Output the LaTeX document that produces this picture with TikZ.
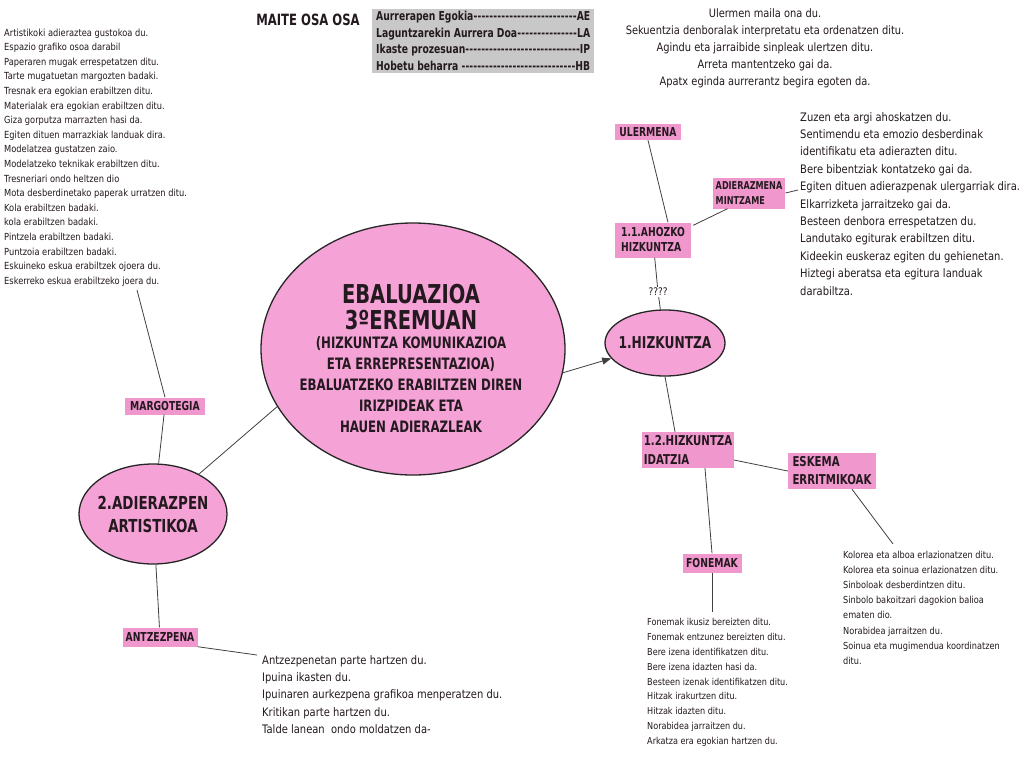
\documentclass[tikz,border=0pt]{standalone}
\usepackage{fontspec}
\newfontfamily\cf{DejaVu Sans}[FakeStretch=0.85]
\newfontfamily\cfb{DejaVu Sans Bold}[FakeStretch=0.75]
\usetikzlibrary{shapes.geometric,calc,arrows.meta}
\definecolor{ellpink}{RGB}{245,162,215}
\definecolor{boxpink}{RGB}{240,152,206}
\definecolor{leggray}{RGB}{200,200,200}
\definecolor{txt}{RGB}{35,25,30}
\begin{document}
\begin{tikzpicture}[x=1pt,y=-1pt,
  every node/.style={font=\cf, text=txt},
  ell/.style={ellipse, draw=black!85, line width=1.3pt, fill=ellpink, inner sep=0pt},
  lbl/.style={fill=boxpink, inner xsep=3pt, inner ysep=1pt, align=left,
    font=\cfb\fontsize{12.3}{15}\selectfont},
  conn/.style={draw=black!75, line width=0.8pt},
  blk/.style={inner sep=0pt, align=left, anchor=north west}]

\useasboundingbox[fill=white] (0,0) rectangle (1024,768);

% ---------- header ----------
\node[font=\cfb\fontsize{15.5}{18}\selectfont] (maite) at (308,20) {MAITE OSA OSA};
\node[fill=leggray, inner xsep=4pt, inner ysep=2pt, anchor=north west, align=left,
  font=\cfb\fontsize{12.3}{16.6}\selectfont] (leg) at (372,9)
 {\makebox[214pt][l]{Aurrerapen Egokia\xleaders\hbox{-}\hfill AE}\\
  \makebox[214pt][l]{Laguntzarekin Aurrera Doa\xleaders\hbox{-}\hfill LA}\\
  \makebox[214pt][l]{Ikaste prozesuan\xleaders\hbox{-}\hfill IP}\\
  \makebox[214pt][l]{Hobetu beharra \xleaders\hbox{-}\hfill HB}};

% ---------- main ellipses ----------
\node[ell, minimum width=304, minimum height=252] (main) at (413,349) {};
\node[inner sep=0pt, anchor=base] (maintxt) at (411,432)
 {\vbox{\hsize=300pt\parindent=0pt\centering\cfb
  \fontsize{26}{26}\selectfont EBALUAZIOA\par
  3ºEREMUAN\par
  \fontsize{15.7}{21}\selectfont\vskip-2.5pt
  (HIZKUNTZA KOMUNIKAZIOA\par
  ETA ERREPRESENTAZIOA)\par
  EBALUATZEKO ERABILTZEN DIREN\par
  IRIZPIDEAK ETA\par
  HAUEN ADIERAZLEAK\par}};

\node[ell, minimum width=120, minimum height=66, inner xsep=-14pt,
  font=\cfb\fontsize{16.3}{18}\selectfont] (hiz) at (665,343) {1.HIZKUNTZA};
\node[ell, minimum width=148, minimum height=100, inner xsep=-16pt, align=center,
  font=\cfb\fontsize{17.9}{23}\selectfont] (adi) at (153,514) {2.ADIERAZPEN\\ARTISTIKOA};

% ---------- labels ----------
\node[lbl, minimum width=80, minimum height=17] (marg) at (165,406) {MARGOTEGIA};
\node[lbl, minimum width=75, minimum height=19] (antz) at (160,637) {ANTZEZPENA};
\node[lbl, minimum width=66, minimum height=16] (uler) at (648,132) {ULERMENA};
\node[lbl, minimum width=72, minimum height=31,
  font=\cfb\fontsize{10.8}{14.5}\selectfont] (adz) at (749,193) {ADIERAZMENA\\MINTZAME};
\node[lbl, minimum width=76, minimum height=35] (ahoz) at (653,240) {1.1.AHOZKO\\HIZKUNTZA};
\node[inner sep=1pt, font=\cf\fontsize{10.5}{12}\selectfont] (q) at (658,292) {????};
\node[lbl, minimum width=90, minimum height=36, inner xsep=1.5pt,
  font=\cfb\fontsize{13.6}{19}\selectfont] (idat) at (688,450) {1.2.HIZKUNTZA\\IDATZIA};
\node[lbl, minimum width=88, minimum height=36,
  font=\cfb\fontsize{13.6}{18}\selectfont] (esk) at (832,471) {ESKEMA\\ERRITMIKOAK};
\node[lbl, minimum width=59, minimum height=19] (fon) at (712,563) {FONEMAK};

% ---------- text blocks ----------
\node[blk, font=\cf\fontsize{9.75}{14.6}\selectfont] (tl) at (4,28.5)
 {Artistikoki adieraztea gustokoa du.\\
  Espazio grafiko osoa darabil\\
  Paperaren mugak errespetatzen ditu.\\
  Tarte mugatuetan margozten badaki.\\
  Tresnak era egokian erabiltzen ditu.\\
  Materialak era egokian erabiltzen ditu.\\
  Giza gorputza marrazten hasi da.\\
  Egiten dituen marrazkiak landuak dira.\\
  Modelatzea gustatzen zaio.\\
  Modelatzeko teknikak erabiltzen ditu.\\
  Tresneriari ondo heltzen dio\\
  Mota desberdinetako paperak urratzen ditu.\\
  Kola erabiltzen badaki.\\
  kola erabiltzen badaki.\\
  Pintzela erabiltzen badaki.\\
  Puntzoia erabiltzen badaki.\\
  Eskuineko eskua erabiltzek ojoera du.\\
  Eskerreko eskua erabiltzeko joera du.};

\node[inner sep=0pt, align=center, anchor=north, font=\cf\fontsize{11.6}{17}\selectfont] (tc) at (765,8)
 {Ulermen maila ona du.\\
  Sekuentzia denboralak interpretatu eta ordenatzen ditu.\\
  Agindu eta jarraibide sinpleak ulertzen ditu.\\
  Arreta mantentzeko gai da.\\
  Apatx eginda aurrerantz begira egoten da.};

\node[blk, font=\cf\fontsize{11.7}{17.4}\selectfont] (rt) at (800,112)
 {Zuzen eta argi ahoskatzen du.\\
  Sentimendu eta emozio desberdinak\\
  identifikatu eta adierazten ditu.\\
  Bere bibentziak kontatzeko gai da.\\
  Egiten dituen adierazpenak ulergarriak dira.\\
  Elkarrizketa jarraitzeko gai da.\\
  Besteen denbora errespetatzen du.\\
  Landutako egiturak erabiltzen ditu.\\
  Kideekin euskeraz egiten du gehienetan.\\
  Hiztegi aberatsa eta egitura landuak\\
  darabiltza.};

\node[blk, font=\cf\fontsize{11.7}{17.3}\selectfont] (at) at (262,655)
 {Antzezpenetan parte hartzen du.\\
  Ipuina ikasten du.\\
  Ipuinaren aurkezpena grafikoa menperatzen du.\\
  Kritikan parte hartzen du.\\
  Talde lanean\ \ ondo moldatzen da-};

\node[blk, font=\cf\fontsize{9.55}{14.9}\selectfont] (ft) at (647,618)
 {Fonemak ikusiz bereizten ditu.\\
  Fonemak entzunez bereizten ditu.\\
  Bere izena identifikatzen ditu.\\
  Bere izena idazten hasi da.\\
  Besteen izenak identifikatzen ditu.\\
  Hitzak irakurtzen ditu.\\
  Hitzak idazten ditu.\\
  Norabidea jarraitzen du.\\
  Arkatza era egokian hartzen du.};

\node[blk, font=\cf\fontsize{9.65}{15.1}\selectfont] (et) at (843,551)
 {Kolorea eta alboa erlazionatzen ditu.\\
  Kolorea eta soinua erlazionatzen ditu.\\
  Sinboloak desberdintzen ditu.\\
  Sinbolo bakoitzari dagokion balioa\\
  ematen dio.\\
  Norabidea jarraitzen du.\\
  Soinua eta mugimendua koordinatzen\\
  ditu.};

% ---------- connector end points ----------
\coordinate (tlend) at (137,290);
\coordinate (atend) at (257,655);
\coordinate (adzend) at (798,190);
\coordinate (fonend) at (712,612);
\coordinate (eskend) at (893,544);

% ---------- connectors ----------
\draw[conn, -{Triangle[length=9pt,width=7pt]}] (main.-9) -- (hiz.196);
\draw[conn] (main.203.5) -- (adi.41);
\draw[conn] (tlend) -- (marg.north);
\draw[conn] (marg) -- (adi);
\draw[conn] (adi) -- (antz);
\draw[conn] (antz.south east) -- (atend);
\draw[conn] (uler.south) -- ($(ahoz.north)+(15,0)$);
\draw[conn] ($(ahoz.north east)+(2,3)$) -- ($(adz.south west)+(15,0)$);
\draw[conn] (adz.east) -- (adzend);
\draw[conn] (ahoz) -- (q);
\draw[conn] (q) -- (hiz);
\draw[conn] (hiz.south) -- ($(idat.north)+(-13,0)$);
\draw[conn] ($(idat.east)+(0,10)$) -- (esk.west);
\draw[conn] ($(idat.south)+(17,0)$) -- (fon.north);
\draw[conn] (fon.south) -- (fonend);
\draw[conn] ($(esk.south)+(20,0)$) -- (eskend);
\end{tikzpicture}
\end{document}
